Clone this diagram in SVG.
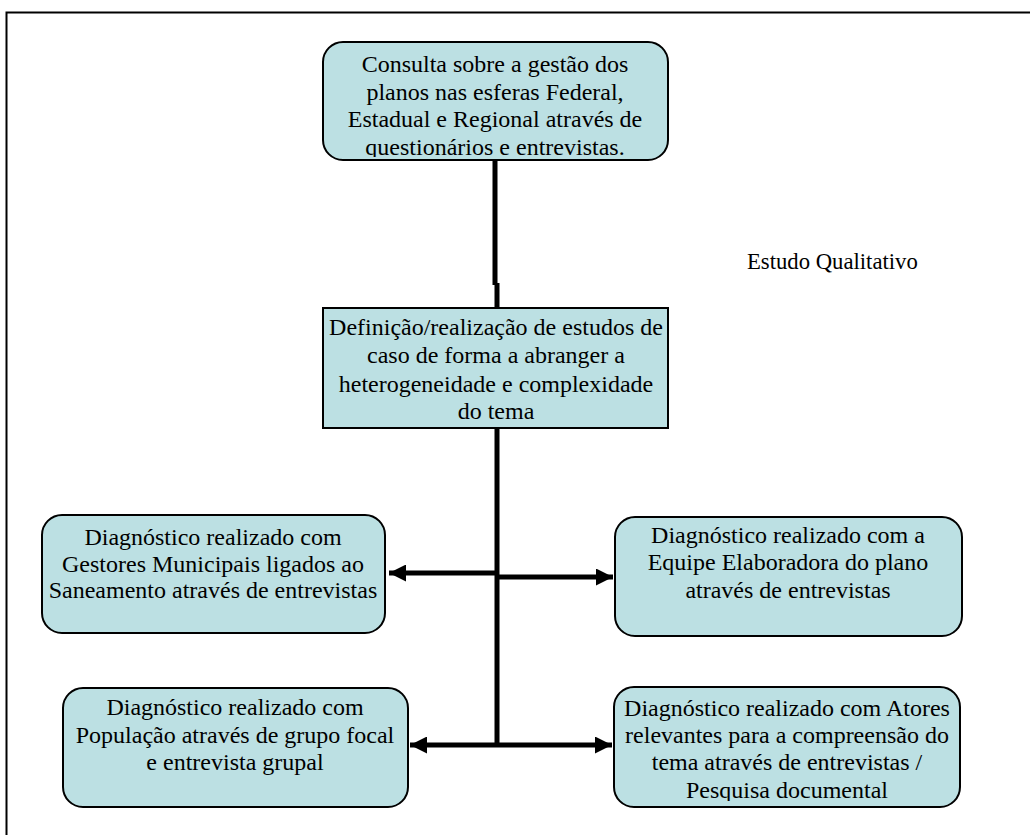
<svg xmlns="http://www.w3.org/2000/svg" width="1030" height="835" viewBox="0 0 1030 835">
<style>
.box{fill:#bce0e3;stroke:#000;stroke-width:2}
text{font-family:"Liberation Serif",serif;font-size:24px;fill:#000}
.t{text-anchor:middle}
.c{stroke:#000;stroke-width:5;fill:none}
</style>
<defs>
<marker id="ah" viewBox="0 0 10 10" refX="10" refY="5" markerWidth="3.6" markerHeight="3.4" orient="auto" markerUnits="strokeWidth">
<path d="M0,0 L10,5 L0,10 Z" fill="#000"/>
</marker>
<clipPath id="cl1"><rect x="323" y="42" width="345" height="115"/></clipPath>
<clipPath id="cl6"><rect x="614" y="687" width="346" height="114"/></clipPath>
</defs>
<rect width="1030" height="835" fill="#fff"/>
<path d="M6.5,835 V12.5 H1030" fill="none" stroke="#000" stroke-width="2"/>
<g id="connectors">
<path class="c" d="M495,160 V285 M497,283 V310"/>
<path class="c" d="M497,428 V747"/>
<path class="c" d="M497,573 H389" marker-end="url(#ah)"/>
<path class="c" d="M497,577 H613" marker-end="url(#ah)"/>
<path class="c" d="M497,745 H410" marker-end="url(#ah)"/>
<path class="c" d="M497,745 H612" marker-end="url(#ah)"/>
</g>
<g id="n1">
<rect class="box" x="323" y="42" width="345" height="118" rx="20"/>
<g clip-path="url(#cl1)">
<text class="t" x="495" y="72">Consulta sobre a gestão dos</text>
<text class="t" x="495" y="100">planos nas esferas Federal,</text>
<text class="t" x="495" y="127">Estadual e Regional através de</text>
<text class="t" x="495" y="155">questionários e entrevistas.</text>
</g>
</g>
<g id="n2">
<rect class="box" x="323" y="308" width="345" height="120"/>
<text class="t" x="496" y="335">Definição/realização de estudos de</text>
<text class="t" x="496" y="363">caso de forma a abranger a</text>
<text class="t" x="496" y="392">heterogeneidade e complexidade</text>
<text class="t" x="496" y="419">do tema</text>
</g>
<g id="label">
<text x="747" y="269" style="font-size:22.7px">Estudo Qualitativo</text>
</g>
<g id="n3">
<rect class="box" x="42" y="515" width="343" height="118" rx="20"/>
<text class="t" x="213" y="545">Diagnóstico realizado com</text>
<text class="t" x="213" y="572">Gestores Municipais ligados ao</text>
<text class="t" x="213" y="598">Saneamento através de entrevistas</text>
</g>
<g id="n4">
<rect class="box" x="615" y="517" width="347" height="119" rx="20"/>
<text class="t" x="788" y="543">Diagnóstico realizado com a</text>
<text class="t" x="788" y="570">Equipe Elaboradora do plano</text>
<text class="t" x="788" y="598">através de entrevistas</text>
</g>
<g id="n5">
<rect class="box" x="63" y="688" width="345" height="119" rx="20"/>
<text class="t" x="235" y="715">Diagnóstico realizado com</text>
<text class="t" x="235" y="743">População através de grupo focal</text>
<text class="t" x="235" y="770">e entrevista grupal</text>
</g>
<g id="n6">
<rect class="box" x="614" y="687" width="346" height="120" rx="20"/>
<g clip-path="url(#cl6)">
<text class="t" x="787" y="716">Diagnóstico realizado com Atores</text>
<text class="t" x="787" y="743">relevantes para a compreensão do</text>
<text class="t" x="787" y="770">tema através de entrevistas /</text>
<text class="t" x="787" y="798">Pesquisa documental</text>
</g>
</g>
</svg>
